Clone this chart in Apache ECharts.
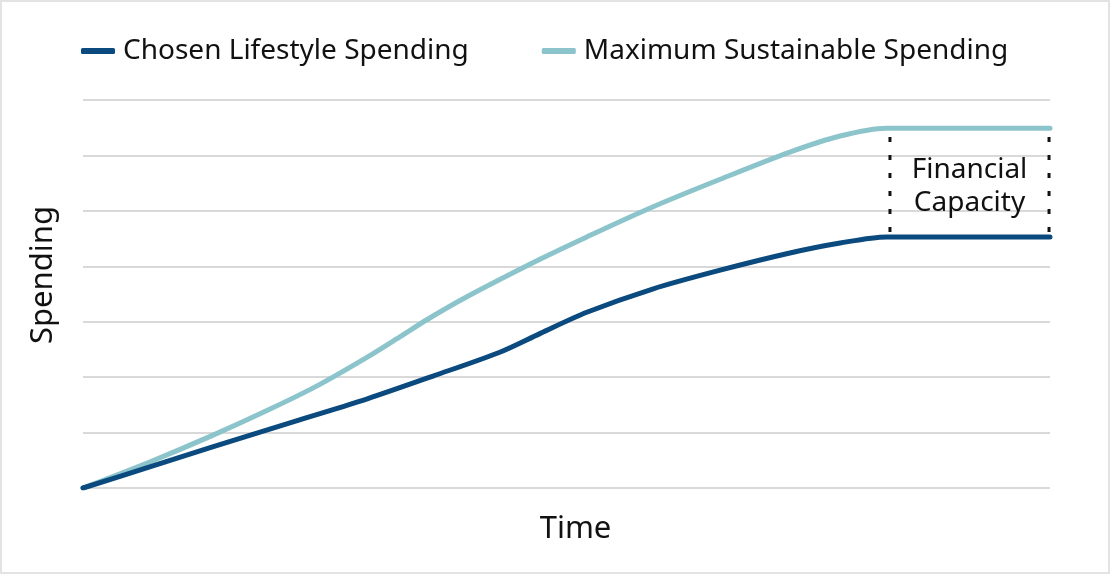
<!DOCTYPE html>
<html>
<head>
<meta charset="utf-8">
<script src="https://cdn.jsdelivr.net/npm/echarts@6/dist/echarts.min.js"></script>
<style>
html,body{margin:0;padding:0;background:#fff;}
#frame{width:1110px;height:574px;box-sizing:border-box;border:2px solid #e3e3e3;position:relative;}
#chart{position:absolute;left:-2px;top:-2px;width:1110px;height:574px;}
</style>
</head>
<body>
<div id="frame"><div id="chart"></div></div>
<script>
// Data (x: time 0-100, y: spending 0-7)
const seriesNames = ['Chosen Lifestyle Spending', 'Maximum Sustainable Spending'];
const chosenX = [0, 6.9, 13.4, 22.4, 29.4, 36.2, 43.1, 47.3, 52.1, 58.9, 65.9, 73.1, 78.3, 83.1, 100];
const chosenY = [0, 0.38, 0.74, 1.23, 1.61, 2.02, 2.45, 2.79, 3.17, 3.59, 3.93, 4.24, 4.42, 4.53, 4.53];
const maxX = [0, 6.9, 13.4, 19.3, 24.5, 29.4, 32.8, 35.6, 39.7, 47.3, 52.1, 58.9, 65.9, 73.1, 78.3, 83.1, 100];
const maxY = [0, 0.47, 0.95, 1.42, 1.87, 2.36, 2.73, 3.04, 3.45, 4.13, 4.53, 5.07, 5.57, 6.06, 6.35, 6.49, 6.49];
const capacityX = [83.45, 99.9];
const capacityRange = [4.62, 6.40];
const capacityLabel = 'Financial\nCapacity';
const xTitle = 'Time';
const yTitle = 'Spending';

const FONT = '"Noto Sans", "Open Sans", sans-serif';
const DARK = '#0b4a7e';
const LIGHT = '#8cc4cc';

const pairs = (xs, ys) => xs.map((x, i) => [x, ys[i]]);

const chart = echarts.init(document.getElementById('chart'));
const dashSeries = capacityX.map(x => ({
  type: 'line', silent: true, symbol: 'none', z: 1,
  data: [[x, capacityRange[0]], [x, capacityRange[1]]],
  lineStyle: {color: '#111', width: 3, type: [5, 13], cap: 'butt'}
}));
chart.setOption({
  animation: false,
  textStyle: {fontFamily: FONT},
  grid: {left: 83, right: 60, top: 100, bottom: 86},
  legend: {
    left: 76, top: 32, itemWidth: 34, itemHeight: 6, itemGap: 73, icon: 'roundRect',
    data: seriesNames,
    textStyle: {fontSize: 28, color: '#111', fontFamily: FONT, padding: [0, 0, 0, 3]}
  },
  xAxis: {
    type: 'value', min: 0, max: 100,
    axisLine: {show: false}, axisTick: {show: false}, axisLabel: {show: false}, splitLine: {show: false},
    name: xTitle, nameLocation: 'middle', nameGap: 26,
    nameTextStyle: {fontSize: 31, color: '#111', fontFamily: FONT, padding: [0, 0, 0, 18]}
  },
  yAxis: {
    type: 'value', min: 0, max: 7, interval: 1,
    axisLine: {show: false}, axisTick: {show: false}, axisLabel: {show: false},
    splitLine: {lineStyle: {color: '#d9d9d9', width: 2}},
    name: yTitle, nameLocation: 'middle', nameGap: 24, nameRotate: 90,
    nameTextStyle: {fontSize: 31, color: '#111', fontFamily: FONT, padding: [0, 0, 0, 38]}
  },
  series: [
    {
      name: seriesNames[0], type: 'line', smooth: 0.3, symbol: 'none', z: 3,
      data: pairs(chosenX, chosenY), color: DARK,
      lineStyle: {color: DARK, width: 5, cap: 'round'}
    },
    {
      name: seriesNames[1], type: 'line', smooth: 0.3, symbol: 'none', z: 2,
      data: pairs(maxX, maxY), color: LIGHT,
      lineStyle: {color: LIGHT, width: 5, cap: 'round'}
    },
    ...dashSeries,
    {
      type: 'scatter', silent: true, symbolSize: 0, itemStyle: {opacity: 1},
      data: [[(capacityX[0] + capacityX[1]) / 2, 5.44]],
      label: {show: true, position: 'inside', formatter: capacityLabel, fontSize: 28, lineHeight: 33, color: '#111', opacity: 1, fontFamily: FONT}
    }
  ]
});
</script>
</body>
</html>
